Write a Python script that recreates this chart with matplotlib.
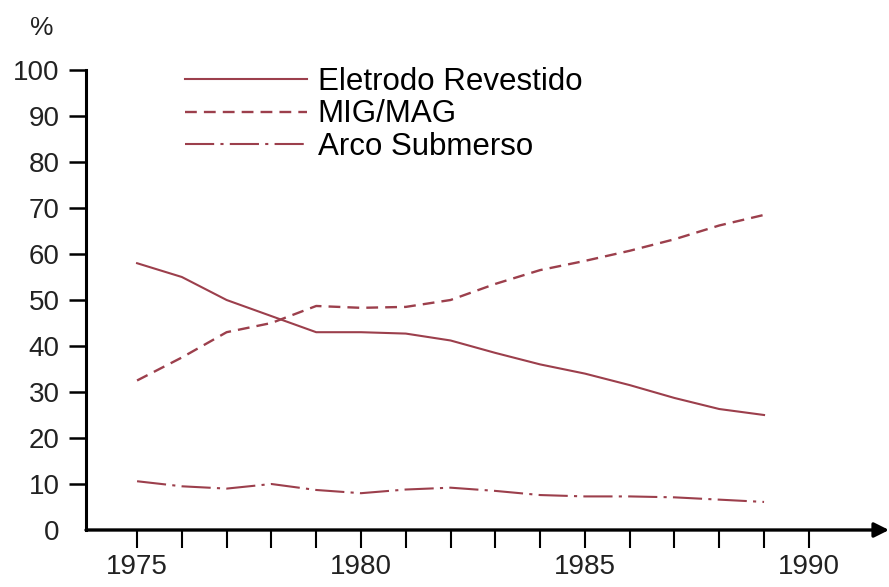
import numpy as np
import matplotlib
matplotlib.use('Agg')
import matplotlib.pyplot as plt

plt.rcParams['font.family'] = ['Liberation Sans', 'DejaVu Sans']

# Data (share of welding processes, %)
years = [1975, 1976, 1977, 1978, 1979, 1980, 1981, 1982, 1983, 1984,
         1985, 1986, 1987, 1988, 1989]
eletrodo = [58, 55, 50, 46.5, 43, 43, 42.7, 41.2, 38.5, 36, 34, 31.5, 28.7, 26.3, 25]
mig_mag = [32.5, 37.5, 43, 45, 48.7, 48.3, 48.5, 50, 53.5, 56.5, 58.5, 60.7, 63.2, 66.2, 68.5]
arco = [10.6, 9.5, 9.0, 10.0, 8.7, 8.0, 8.8, 9.2, 8.5, 7.6, 7.3, 7.3, 7.1, 6.6, 6.1]
labels = ['Eletrodo Revestido', 'MIG/MAG', 'Arco Submerso']
year_ticks = list(range(1975, 1991))
year_labels = [str(y) if y % 5 == 0 else '' for y in year_ticks]
pct_ticks = list(range(0, 101, 10))

line_color = '#9c3f4c'

W, H = 889, 587
fig = plt.figure(figsize=(W / 100, H / 100), dpi=100)
fig.patch.set_facecolor('white')
ax = fig.add_axes([86 / W, (H - 530) / H, (889 - 86) / W, 460 / H])

ax.plot(years, eletrodo, '-', color=line_color, lw=1.5, label=labels[0],
        solid_joinstyle='round')
ax.plot(years, mig_mag, color=line_color, lw=1.7, linestyle=(0, (5, 3)),
        label=labels[1])
ax.plot(years, arco, color=line_color, lw=1.5, linestyle=(0, (14, 3, 1.5, 3)),
        label=labels[2])

ax.set_xlim(1973.86, 1991.79)
ax.set_ylim(0, 100)

for s in ['top', 'right', 'bottom']:
    ax.spines[s].set_visible(False)
ax.spines['left'].set_linewidth(2.2)
ax.spines['left'].set_color('black')

# x axis with arrow head
ax.annotate('', xy=(1.0, 0), xytext=(0, 0), xycoords='axes fraction',
            arrowprops=dict(arrowstyle='-|>', color='black', lw=2.4,
                            mutation_scale=22, shrinkA=0, shrinkB=0))

ax.set_xticks(year_ticks)
ax.set_xticklabels(year_labels, fontsize=20, color='#222222')
ax.set_yticks(pct_ticks)
ax.set_yticklabels([str(p) for p in pct_ticks], fontsize=20, color='#222222')
ax.tick_params(axis='x', direction='out', length=13, width=1.5, pad=4)
ax.tick_params(axis='y', direction='out', length=12, width=1.8, pad=7)
ax.yaxis.get_major_ticks()[0].tick1line.set_visible(False)

fig.text(42 / W, 1 - 28 / H, '%', fontsize=19, ha='center', va='center',
         color='#222222')

ax.legend(loc='upper left', bbox_to_anchor=(185 / W, 1 - 67 / H),
          bbox_transform=fig.transFigure, frameon=False, fontsize=22.5,
          handlelength=3.9, handletextpad=0.35, labelspacing=0.08,
          borderpad=0, borderaxespad=0)

fig.savefig('out.png', dpi=100, facecolor='white')
